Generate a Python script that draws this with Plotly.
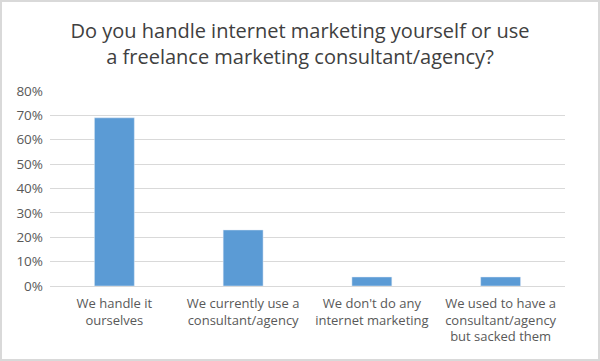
import plotly.graph_objects as go

categories = ["We handle it<br>ourselves", "We currently use a<br>consultant/agency",
              "We don't do any<br>internet marketing", "We used to have a<br>consultant/agency<br>but sacked them"]
values = [0.69, 0.23, 0.037, 0.037]
tick_vals = [0, 0.1, 0.2, 0.3, 0.4, 0.5, 0.6, 0.7, 0.8]
tick_text = ["0%", "10%", "20%", "30%", "40%", "50%", "60%", "70%", "80%"]
title = "Do you handle internet marketing yourself or use<br>a freelance marketing consultant/agency?"

W, H = 600, 361
ml, mr, mt, mb = 50, 35, 91, 75

fig = go.Figure(go.Bar(x=categories, y=values, marker_color="#5B9BD5", width=0.31))

pw = W - ml - mr
ph = H - mt - mb
fig.add_shape(type="rect", xref="paper", yref="paper",
              x0=(1 - ml) / pw, x1=(W - 1 - ml) / pw,
              y0=-(mb - 1) / ph, y1=1 + (mt - 1) / ph,
              line=dict(color="#d9d9d9", width=2), layer="below")

fig.update_layout(
    width=W, height=H,
    margin=dict(l=ml, r=mr, t=mt, b=mb),
    paper_bgcolor="white", plot_bgcolor="white",
    font=dict(family="Open Sans, Liberation Sans, sans-serif", color="#595959", size=12),
    title=dict(text=title, x=0.5, xanchor="center", y=0.895, yanchor="top",
               font=dict(size=20, color="#404040")),
    showlegend=False,
    yaxis=dict(range=[0, 0.8], tickvals=tick_vals, ticktext=tick_text,
               showgrid=True, gridcolor="#d9d9d9", gridwidth=1, zeroline=False,
               showline=False, ticks="", ticklabelstandoff=6,
               tickfont=dict(size=13.5, color="#595959")),
    xaxis=dict(showline=True, linecolor="#d9d9d9", linewidth=1, ticks="",
               ticklabelstandoff=5,
               tickfont=dict(size=13, color="#595959"), tickangle=0),
)

fig.write_html("out.html")
